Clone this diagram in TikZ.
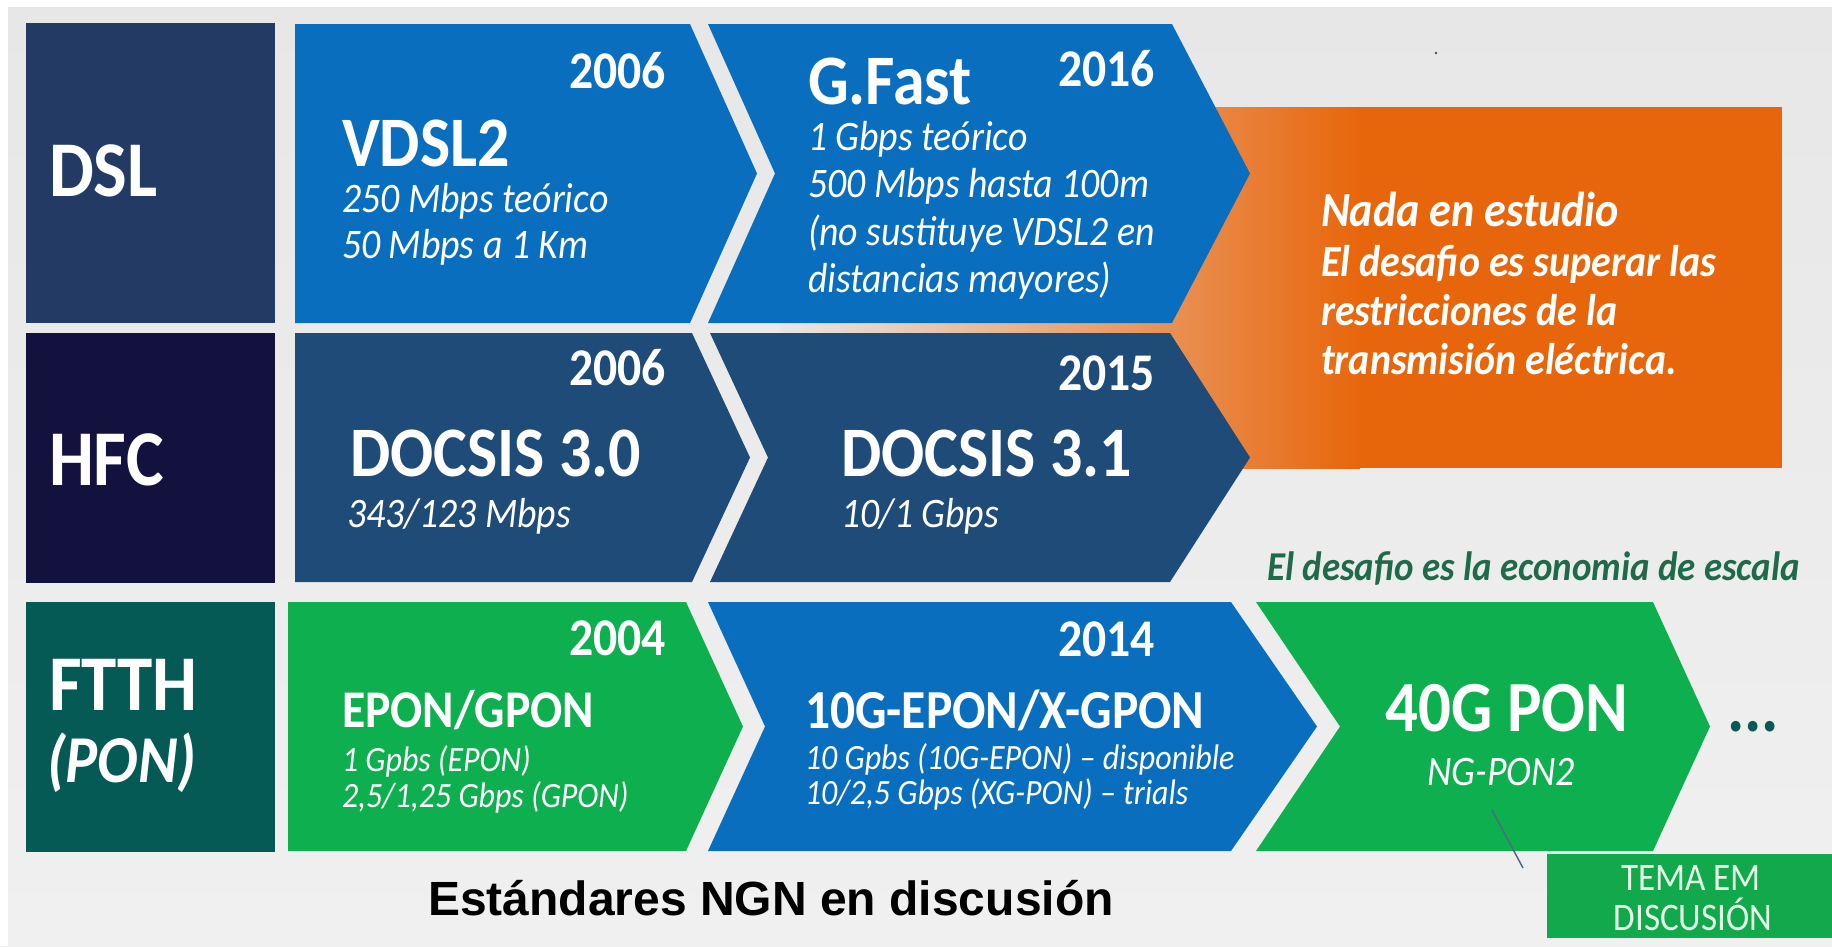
\documentclass[tikz,border=0pt]{standalone}
\usepackage{fontspec}
\setmainfont{Carlito}[FakeStretch=0.9]
\newfontfamily\arialfont{Liberation Sans}
\definecolor{bgtop}{HTML}{E7E7E7}
\definecolor{bgbot}{HTML}{F0F0F0}
\definecolor{dslnavy}{HTML}{233A64}
\definecolor{hfcnavy}{HTML}{13123E}
\definecolor{ftthteal}{HTML}{065A56}
\definecolor{techblue}{HTML}{0A6EBF}
\definecolor{docsisblue}{HTML}{1F4B78}
\definecolor{ponGreen}{HTML}{0EAF4F}
\definecolor{temaGreen}{HTML}{12A84C}
\definecolor{orng}{HTML}{E8660B}
\definecolor{deepgreen}{HTML}{1F6A4A}
\definecolor{mint}{HTML}{E4FBE6}
\definecolor{leader}{HTML}{4D6A88}
\tikzset{
  rowlbl/.style={anchor=base west, inner sep=0pt, outer sep=0pt, text=white,
    font=\bfseries\fontsize{79}{88}\selectfont},
  yearlbl/.style={anchor=base east, inner sep=0pt, outer sep=0pt, text=white,
    font=\bfseries\fontsize{53}{60}\selectfont},
  titlelbl/.style={anchor=base west, inner sep=0pt, outer sep=0pt, text=white,
    font=\bfseries\fontsize{71}{80}\selectfont},
  midtitle/.style={anchor=base west, inner sep=0pt, outer sep=0pt, text=white,
    font=\bfseries\fontsize{53}{60}\selectfont},
  sublbl/.style={anchor=base west, inner sep=0pt, outer sep=0pt, text=white,
    font=\itshape\fontsize{42}{50}\selectfont},
  smallsub/.style={anchor=base west, inner sep=0pt, outer sep=0pt, text=white,
    font=\itshape\fontsize{35.5}{42}\selectfont},
  notelbl/.style={anchor=base west, inner sep=0pt, outer sep=0pt, text=white,
    font=\bfseries\itshape\fontsize{44.4}{52}\selectfont},
}
\begin{document}
\begin{tikzpicture}[x=1pt,y=-1pt]
\useasboundingbox (0,0) rectangle (1832,946);
% slide background
\shade[top color=bgtop,bottom color=bgbot] (0,0) rectangle (1832,946);
\fill[white] (0,0) rectangle (1832,7);
\fill[white] (0,0) rectangle (8,946);
\fill[black!70] (1436,53) circle (1.4);

% orange panel behind the DSL/HFC rows
\fill[orng] (1205,107) rectangle (1782,468);
\shade[left color=bgtop, right color=orng] (780,107) rectangle (1360,468);

% row headers
\fill[dslnavy]  (26,23)  rectangle (275,323);
\fill[hfcnavy]  (26,333) rectangle (275,583);
\fill[ftthteal] (26,602) rectangle (275,852);

% DSL row
\fill[techblue] (295,24) -- (690,24) -- (757,173.5) -- (690,323) -- (295,323) -- cycle;
\fill[techblue] (708,24) -- (1172,24) -- (1250,173.5) -- (1172,323) -- (708,323) -- (775,173.5) -- cycle;

% HFC row
\fill[docsisblue] (295,333) -- (692,333) -- (750,457.5) -- (692,582) -- (295,582) -- cycle;
\fill[docsisblue] (710,333) -- (1170,333) -- (1250,457.5) -- (1170,582) -- (710,582) -- (768,457.5) -- cycle;

% FTTH row
\fill[ponGreen] (288,602) -- (686,602) -- (743,726.5) -- (686,851) -- (288,851) -- cycle;
\fill[techblue] (708,602) -- (1231,602) -- (1317,726.5) -- (1231,851) -- (708,851) -- (765,726.5) -- cycle;
\fill[ponGreen] (1256,602) -- (1653,602) -- (1710,726.5) -- (1653,851) -- (1256,851) -- (1340,726.5) -- cycle;

% header texts
\node[rowlbl] (dsl) at (49,196) {DSL};
\node[rowlbl] (hfc) at (49,485) {HFC};
\node[rowlbl] (ftth) at (49,710) {FTTH};
\node[rowlbl, font=\bfseries\itshape\fontsize{67}{76}\selectfont] (pon) at (47,782) {(PON)};

% VDSL2
\node[yearlbl] (y2006a) at (666,88) {2006};
\node[titlelbl] (vdsl) at (342,166) {VDSL2};
\node[sublbl] (vdslA) at (342,212) {250 Mbps teórico};
\node[sublbl] (vdslB) at (342,258) {50 Mbps a 1 Km};

% G.Fast
\node[yearlbl] (y2016) at (1155,86) {2016};
\node[titlelbl] (gfast) at (808,104) {G.Fast};
\node[sublbl] (gfA) at (808,150) {1 Gbps teórico};
\node[sublbl] (gfB) at (808,197) {500 Mbps hasta 100m};
\node[sublbl] (gfC) at (808,245) {(no sustituye VDSL2 en};
\node[sublbl] (gfD) at (808,292) {distancias mayores)};

% orange panel text
\node[notelbl, font=\bfseries\itshape\fontsize{49}{56}\selectfont] (nada) at (1321,226) {Nada en estudio};
\node[notelbl] (nadaA) at (1321,276) {El desafio es superar las};
\node[notelbl] (nadaB) at (1321,325) {restricciones de la};
\node[notelbl] (nadaC) at (1321,374) {transmisión eléctrica.};

% DOCSIS
\node[yearlbl] (y2006b) at (666,385) {2006};
\node[titlelbl] (doc30) at (350,476) {DOCSIS 3.0};
\node[sublbl] (doc30A) at (347,527) {343/123 Mbps};
\node[yearlbl] (y2015) at (1155,390) {2015};
\node[titlelbl] (doc31) at (841,476) {DOCSIS 3.1};
\node[sublbl] (doc31A) at (841,527) {10/1 Gbps};

\node[anchor=base west, inner sep=0pt, text=deepgreen,
  font=\bfseries\itshape\fontsize{41}{48}\selectfont] (escala) at (1267,580)
  {El desafio es la economia de escala};

% PON
\node[yearlbl] (y2004) at (666,655) {2004};
\node[midtitle] (epon) at (342,727) {EPON/GPON};
\node[smallsub] (eponA) at (342,771) {1 Gpbs (EPON)};
\node[smallsub] (eponB) at (342,807) {2,5/1,25 Gbps (GPON)};

\node[yearlbl] (y2014) at (1155,656) {2014};
\node[midtitle, font=\bfseries\fontsize{55}{62}\selectfont] (xgpon) at (805,728) {10G-EPON/X-GPON};
\node[smallsub] (xgponA) at (805,769) {10 Gpbs (10G-EPON) – disponible};
\node[smallsub] (xgponB) at (805,804) {10/2,5 Gbps (XG-PON) – trials};

\node[anchor=base, inner sep=0pt, text=white,
  font=\bfseries\fontsize{72}{80}\selectfont] (pon40) at (1507,731) {40G PON};
\node[anchor=base, inner sep=0pt, text=white,
  font=\itshape\fontsize{42}{50}\selectfont] (ngpon) at (1501,785) {NG-PON2};
\node[anchor=base west, inner sep=0pt, text=ftthteal,
  font=\bfseries\fontsize{72}{80}\selectfont] (more) at (1727,731) {...};

% topic tag
\fill[temaGreen] (1547,854) rectangle (1834,938);
\node[anchor=base, inner sep=0pt, text=mint, font=\fontsize{39}{46}\selectfont] (temaA) at (1691,890) {TEMA EM};
\node[anchor=base, inner sep=0pt, text=mint, font=\fontsize{39}{46}\selectfont] (temaB) at (1693,930) {DISCUSIÓN};
\coordinate (leadA) at (1492,810);
\coordinate (leadB) at (1523,868);
\draw[leader, line width=1.5pt] (leadA) -- (leadB);

% caption
\node[anchor=base west, inner sep=0pt, text=black,
  font=\arialfont\bfseries\fontsize{48}{56}\selectfont] (caption) at (428,915)
  {Estándares NGN en discusión};
\end{tikzpicture}
\end{document}
